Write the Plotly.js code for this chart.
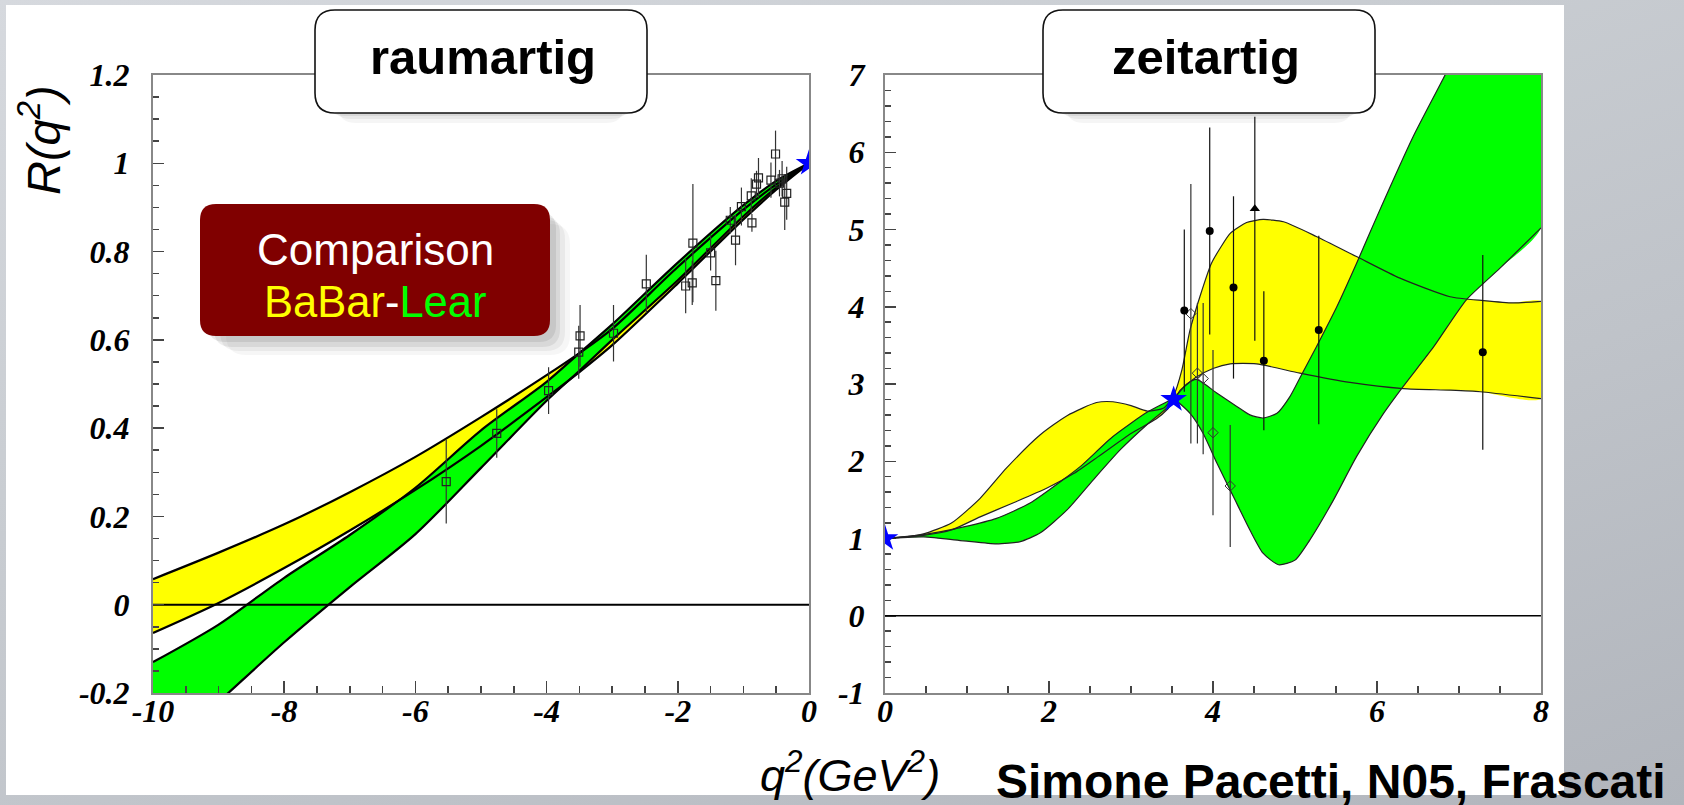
<!DOCTYPE html>
<html>
<head>
<meta charset="utf-8">
<script src="https://cdn.plot.ly/plotly-3.0.1.min.js"></script>
<style>
  html, body { margin: 0; padding: 0; }
  body { width: 1684px; height: 805px; overflow: hidden;
    background: linear-gradient(160deg, #d6d9de 0%, #c9cdd2 35%, #bfc3c9 65%, #b1b5bc 100%); }
  #chart { width: 1684px; height: 805px; }
</style>
</head>
<body>
<div id="chart"></div>
<script>
// ---------------- DATA ----------------
// Space-like region (left panel), q^2 in GeV^2
const spaceX          = [-10, -9, -8, -7, -6, -5, -4, -3.5, -3, -2, -1, -0.5, 0];
const spaceBabarUpper = [0.058, 0.118, 0.182, 0.255, 0.335, 0.425, 0.52, 0.57, 0.625, 0.765, 0.895, 0.952, 1.0];
const spaceBabarLower = [-0.064, 0.004, 0.083, 0.168, 0.26, 0.36, 0.47, 0.527, 0.588, 0.728, 0.873, 0.94, 1.0];
const spaceLearUpper  = [-0.13, -0.045, 0.061, 0.158, 0.265, 0.395, 0.505, 0.57, 0.635, 0.775, 0.905, 0.96, 1.0];
const spaceLearLower  = [-0.354, -0.22, -0.085, 0.04, 0.16, 0.31, 0.462, 0.53, 0.6, 0.735, 0.88, 0.945, 1.0];

const spaceDataX   = [-5.53, -4.76, -3.97, -3.51, -3.49, -2.98, -2.48, -1.88, -1.78, -1.77, -1.5, -1.42, -1.2, -1.12, -1.03, -0.88, -0.87, -0.80, -0.77, -0.58, -0.51, -0.45, -0.41, -0.37, -0.34];
const spaceDataY   = [0.279, 0.388, 0.485, 0.572, 0.609, 0.615, 0.727, 0.722, 0.729, 0.819, 0.797, 0.734, 0.871, 0.826, 0.902, 0.926, 0.865, 0.953, 0.967, 0.962, 1.021, 0.955, 0.965, 0.912, 0.932];
const spaceDataErr = [0.095, 0.055, 0.053, 0.06, 0.07, 0.064, 0.066, 0.062, 0.05, 0.134, 0.04, 0.068, 0.03, 0.057, 0.043, 0.04, 0.02, 0.03, 0.045, 0.04, 0.053, 0.03, 0.04, 0.063, 0.06];
const spaceStarX = [0];
const spaceStarY = [1];

// Time-like region (right panel)
const timeBabarUpperX = [0, 0.25, 0.47, 0.81, 1.16, 1.48, 1.89, 2.22, 2.58, 2.78, 3.0, 3.2, 3.4, 3.52, 3.62, 3.72, 3.84, 3.98, 4.1, 4.21, 4.41, 4.61, 4.86, 5.26, 5.75, 6.28, 6.89, 7.3, 7.66, 8.0];
const timeBabarUpperY = [1, 1.02, 1.06, 1.2, 1.52, 1.91, 2.34, 2.59, 2.76, 2.77, 2.72, 2.65, 2.69, 2.85, 3.18, 3.70, 4.13, 4.56, 4.78, 4.95, 5.09, 5.13, 5.10, 4.91, 4.65, 4.37, 4.13, 4.08, 4.05, 4.07];
const timeBabarLowerX = [0, 0.47, 0.81, 1.16, 1.56, 1.97, 2.30, 2.6, 3.0, 3.31, 3.45, 3.52, 3.6, 3.8, 4.0, 4.21, 4.53, 5.06, 5.67, 6.32, 6.89, 7.26, 8.0];
const timeBabarLowerY = [1, 1.04, 1.11, 1.28, 1.46, 1.65, 1.84, 2.06, 2.36, 2.55, 2.68, 2.78, 2.92, 3.09, 3.2, 3.26, 3.26, 3.14, 3.02, 2.94, 2.92, 2.90, 2.81];
const timeLearUpperX  = [0, 0.47, 0.96, 1.36, 1.77, 2.17, 2.38, 2.78, 3.19, 3.44, 3.52, 3.68, 3.80, 4.05, 4.29, 4.45, 4.61, 4.78, 4.94, 5.08, 5.26, 5.51, 5.75, 6.0, 6.44, 6.83, 7.2, 8.0];
const timeLearUpperY  = [1, 1.05, 1.15, 1.26, 1.46, 1.76, 1.93, 2.32, 2.63, 2.77, 2.81, 3.0, 3.06, 2.88, 2.71, 2.60, 2.56, 2.62, 2.84, 3.12, 3.48, 4.0, 4.56, 5.17, 6.2, 7.0, 7.8, 9.5];
const timeLearLowerX  = [0, 0.47, 0.96, 1.36, 1.65, 1.89, 2.22, 2.54, 2.87, 3.19, 3.48, 3.52, 3.72, 3.88, 4.05, 4.25, 4.45, 4.61, 4.80, 5.0, 5.18, 5.47, 5.75, 6.08, 6.32, 6.69, 7.09, 7.5, 8.0];
const timeLearLowerY  = [1, 1.02, 0.97, 0.93, 0.96, 1.07, 1.37, 1.76, 2.15, 2.47, 2.73, 2.8, 2.62, 2.36, 1.97, 1.54, 1.11, 0.81, 0.66, 0.72, 0.98, 1.50, 2.06, 2.62, 2.97, 3.48, 4.09, 4.5, 5.02];

const timeDotsX   = [3.65, 3.96, 4.25, 4.62, 5.29, 7.29];
const timeDotsY   = [3.95, 4.98, 4.25, 3.30, 3.70, 3.41];
const timeDotsErr = [1.05, 1.34, 1.18, 0.90, 1.22, 1.26];
const timeTriX = [4.51];
const timeTriY = [5.27];
const timeTriErrUp = [1.19];
const timeTriErrDown = [1.71];
const timeDiamX   = [3.73, 3.81, 3.88, 4.00, 4.21];
const timeDiamY   = [3.91, 3.14, 3.07, 2.37, 1.68];
const timeDiamErr = [1.68, 0.91, 0.98, 1.07, 0.79];
const timeStarX = [0, 3.52];
const timeStarY = [1, 2.8];

// Axes / ticks
const leftXRange = [-10, 0];
const leftYRange = [-0.2, 1.2];
const rightXRange = [0, 8];
const rightYRange = [-1, 7];
const leftXTicks = [-10, -8, -6, -4, -2, 0];
const leftXTickText = ['-10', '-8', '-6', '-4', '-2', '0'];
const leftYTicks = [-0.2, 0, 0.2, 0.4, 0.6, 0.8, 1, 1.2];
const leftYTickText = ['-0.2', '0', '0.2', '0.4', '0.6', '0.8', '1', '1.2'];
const rightXTicks = [0, 2, 4, 6, 8];
const rightXTickText = ['0', '2', '4', '6', '8'];
const rightYTicks = [-1, 0, 1, 2, 3, 4, 5, 6, 7];
const rightYTickText = ['-1', '0', '1', '2', '3', '4', '5', '6', '7'];

// ---------------- HELPERS ----------------
const W = 1684, H = 805;
const PX = x => x / W;
const PY = y => 1 - y / H;

function band(xu, yu, xl, yl) {
  return { x: xu.concat(xl.slice().reverse()), y: yu.concat(yl.slice().reverse()) };
}
function roundRect(x0, y0, x1, y1, r) {
  const X = PX, Y = PY;
  return `M ${X(x0 + r)},${Y(y0)} L ${X(x1 - r)},${Y(y0)} Q ${X(x1)},${Y(y0)} ${X(x1)},${Y(y0 + r)} ` +
         `L ${X(x1)},${Y(y1 - r)} Q ${X(x1)},${Y(y1)} ${X(x1 - r)},${Y(y1)} ` +
         `L ${X(x0 + r)},${Y(y1)} Q ${X(x0)},${Y(y1)} ${X(x0)},${Y(y1 - r)} ` +
         `L ${X(x0)},${Y(y0 + r)} Q ${X(x0)},${Y(y0)} ${X(x0 + r)},${Y(y0)} Z`;
}

const YELLOW = '#ffff00', GREEN = '#00ff00';
const traces = [];

// ---- left panel ----
const sb = band(spaceX, spaceBabarUpper, spaceX, spaceBabarLower);
const sl = band(spaceX, spaceLearUpper, spaceX, spaceLearLower);
traces.push({ x: sb.x, y: sb.y, xaxis: 'x', yaxis: 'y', type: 'scatter', mode: 'lines', fill: 'toself',
  fillcolor: YELLOW, line: { width: 0, shape: 'spline', smoothing: 0.8 }, hoverinfo: 'skip' });
traces.push({ x: sl.x, y: sl.y, xaxis: 'x', yaxis: 'y', type: 'scatter', mode: 'lines', fill: 'toself',
  fillcolor: GREEN, line: { width: 0, shape: 'spline', smoothing: 0.8 }, hoverinfo: 'skip' });
traces.push({ x: leftXRange, y: [0, 0], xaxis: 'x', yaxis: 'y', mode: 'lines', line: { color: '#000', width: 2 } });
[spaceBabarUpper, spaceBabarLower, spaceLearUpper, spaceLearLower].forEach(arr => {
  traces.push({ x: spaceX, y: arr, xaxis: 'x', yaxis: 'y', mode: 'lines',
    line: { color: '#000', width: 2.2, shape: 'spline', smoothing: 0.8 } });
});
traces.push({ x: spaceDataX, y: spaceDataY, xaxis: 'x', yaxis: 'y', mode: 'markers',
  marker: { symbol: 'square-open', size: 8, color: '#222', line: { width: 1.2 } },
  error_y: { type: 'data', array: spaceDataErr, color: '#333', thickness: 1.2, width: 0 } });
traces.push({ x: spaceStarX, y: spaceStarY, xaxis: 'x', yaxis: 'y', mode: 'markers',
  marker: { symbol: 'star', size: 20, color: '#0000ff', line: { width: 0 } } });

// ---- right panel ----
const tb = band(timeBabarUpperX, timeBabarUpperY, timeBabarLowerX, timeBabarLowerY);
const tl = band(timeLearUpperX, timeLearUpperY, timeLearLowerX, timeLearLowerY);
traces.push({ x: tb.x, y: tb.y, xaxis: 'x2', yaxis: 'y2', mode: 'lines', fill: 'toself',
  fillcolor: YELLOW, line: { width: 0, shape: 'spline', smoothing: 0.6 }, hoverinfo: 'skip' });
traces.push({ x: tl.x, y: tl.y, xaxis: 'x2', yaxis: 'y2', mode: 'lines', fill: 'toself',
  fillcolor: GREEN, line: { width: 0, shape: 'spline', smoothing: 0.6 }, hoverinfo: 'skip' });
traces.push({ x: rightXRange, y: [0, 0], xaxis: 'x2', yaxis: 'y2', mode: 'lines', line: { color: '#000', width: 1.6 } });
[[timeBabarUpperX, timeBabarUpperY], [timeBabarLowerX, timeBabarLowerY],
 [timeLearUpperX, timeLearUpperY], [timeLearLowerX, timeLearLowerY]].forEach(([xx, yy]) => {
  traces.push({ x: xx, y: yy, xaxis: 'x2', yaxis: 'y2', mode: 'lines',
    line: { color: '#222', width: 1.2, shape: 'spline', smoothing: 0.6 } });
});
traces.push({ x: timeDiamX, y: timeDiamY, xaxis: 'x2', yaxis: 'y2', mode: 'markers',
  marker: { symbol: 'diamond-open', size: 8, color: '#333', line: { width: 1 } },
  error_y: { type: 'data', array: timeDiamErr, color: '#333', thickness: 1.2, width: 0 } });
traces.push({ x: timeDotsX, y: timeDotsY, xaxis: 'x2', yaxis: 'y2', mode: 'markers',
  marker: { symbol: 'circle', size: 8, color: '#000' },
  error_y: { type: 'data', array: timeDotsErr, color: '#111', thickness: 1.2, width: 0 } });
traces.push({ x: timeTriX, y: timeTriY, xaxis: 'x2', yaxis: 'y2', mode: 'markers',
  marker: { symbol: 'triangle-up', size: 9, color: '#000' },
  error_y: { type: 'data', symmetric: false, array: timeTriErrUp, arrayminus: timeTriErrDown, color: '#111', thickness: 1.2, width: 0 } });
traces.push({ x: timeStarX, y: timeStarY, xaxis: 'x2', yaxis: 'y2', mode: 'markers',
  marker: { symbol: 'star', size: 20, color: '#0000ff', line: { width: 0 } } });

// ---------------- LAYOUT ----------------
const tickFont = { family: 'Liberation Serif', size: 32, color: '#000', weight: 'bold', style: 'italic' };
function xAxis(domain, range, vals, text, anchor, layer) {
  return { domain, range, anchor, tickmode: 'array', tickvals: vals, ticktext: text,
    ticks: 'inside', ticklen: 12, tickwidth: 1.5, tickcolor: '#444',
    minor: { tickmode: 'linear', dtick: 0.5, tick0: range[0], ticks: 'inside', ticklen: 7, tickwidth: 1.5, tickcolor: '#444' },
    showline: true, mirror: true, linecolor: '#888', linewidth: 2, showgrid: false, zeroline: false,
    tickfont: tickFont, ticklabelstandoff: -11, fixedrange: true, layer };
}
function yAxis(domain, range, vals, text, anchor, minorDtick, standoff, layer) {
  return { domain, range, anchor, tickmode: 'array', tickvals: vals, ticktext: text,
    ticks: 'inside', ticklen: 11, tickwidth: 1.5, tickcolor: '#444',
    minor: { tickmode: 'linear', dtick: minorDtick, tick0: range[0], ticks: 'inside', ticklen: 6, tickwidth: 1.5, tickcolor: '#444' },
    showline: true, mirror: true, linecolor: '#888', linewidth: 2, showgrid: false, zeroline: false,
    tickfont: tickFont, ticklabelstandoff: standoff, fixedrange: true, layer };
}

const shadow = (x0, y0, x1, y1, r, a) => ({ type: 'path', xref: 'paper', yref: 'paper', layer: 'above',
  path: roundRect(x0, y0, x1, y1, r), fillcolor: `rgba(0,0,0,${a})`, line: { width: 0 } });

const shapes = [
  // white slide area
  { type: 'rect', xref: 'paper', yref: 'paper', layer: 'below', x0: PX(6), x1: PX(1564), y0: PY(795), y1: PY(5),
    fillcolor: '#ffffff', line: { width: 0 } },
  // title box shadows
  shadow(338, 22, 624, 123, 18, 0.04), shadow(333, 19, 629, 119, 18, 0.05), shadow(327, 16, 635, 116, 18, 0.07),
  shadow(1066, 22, 1352, 123, 18, 0.04), shadow(1061, 19, 1357, 119, 18, 0.05), shadow(1055, 16, 1363, 116, 18, 0.07),
  // title boxes
  { type: 'path', xref: 'paper', yref: 'paper', layer: 'above', path: roundRect(315, 10, 647, 113, 20),
    fillcolor: '#ffffff', line: { color: '#111', width: 1.6 } },
  { type: 'path', xref: 'paper', yref: 'paper', layer: 'above', path: roundRect(1043, 10, 1375, 113, 20),
    fillcolor: '#ffffff', line: { color: '#111', width: 1.6 } },
  // comparison box shadow + box
  shadow(226, 224, 570, 355, 20, 0.035), shadow(220, 220, 565, 351, 19, 0.05), shadow(214, 216, 560, 347, 18, 0.07),
  shadow(208, 212, 556, 342, 17, 0.08),
  { type: 'path', xref: 'paper', yref: 'paper', layer: 'above', path: roundRect(200, 204, 550, 336, 16),
    fillcolor: '#800000', line: { width: 0 } }
];

const annFont = (size, color, weight, style) => ({ family: 'Liberation Sans, Arial, sans-serif', size, color, weight, style });
const annotations = [
  { xref: 'paper', yref: 'paper', x: PX(483), y: PY(57), xanchor: 'center', yanchor: 'middle', showarrow: false,
    text: 'raumartig', font: annFont(49, '#000', 'bold', 'normal') },
  { xref: 'paper', yref: 'paper', x: PX(1206), y: PY(57), xanchor: 'center', yanchor: 'middle', showarrow: false,
    text: 'zeitartig', font: annFont(49, '#000', 'bold', 'normal') },
  { xref: 'paper', yref: 'paper', x: PX(375), y: PY(250), xanchor: 'center', yanchor: 'middle', showarrow: false,
    text: 'Comparison', font: annFont(44, '#ffffff', 'normal', 'normal') },
  { xref: 'paper', yref: 'paper', x: PX(375), y: PY(302), xanchor: 'center', yanchor: 'middle', showarrow: false,
    text: '<span style="color:#ffff00">BaBar</span><span style="color:#ffffff">-</span><span style="color:#00ff00">Lear</span>',
    font: annFont(43.5, '#ffffff', 'normal', 'normal') },
  { xref: 'paper', yref: 'paper', x: PX(40), y: PY(140), xanchor: 'center', yanchor: 'middle', showarrow: false,
    textangle: -90, text: 'R(q<sup>2</sup>)', font: annFont(47, '#000', 'normal', 'italic') },
  { xref: 'paper', yref: 'paper', x: PX(850), y: PY(772), xanchor: 'center', yanchor: 'middle', showarrow: false,
    text: 'q<sup>2</sup>(GeV<sup>2</sup>)', font: annFont(45, '#000', 'normal', 'italic') },
  { xref: 'paper', yref: 'paper', x: PX(1331), y: PY(781), xanchor: 'center', yanchor: 'middle', showarrow: false,
    text: 'Simone Pacetti, N05, Frascati', font: annFont(48, '#000', 'bold', 'normal') }
];

const layout = {
  width: W, height: H, margin: { l: 0, r: 0, t: 0, b: 0 },
  paper_bgcolor: 'rgba(0,0,0,0)', plot_bgcolor: 'rgba(0,0,0,0)',
  showlegend: false, hovermode: false,
  xaxis: xAxis([PX(153), PX(809)], leftXRange, leftXTicks, leftXTickText, 'y', 'above traces'),
  yaxis: yAxis([PY(693), PY(75)], leftYRange, leftYTicks, leftYTickText, 'x', 0.05, 15, 'above traces'),
  xaxis2: xAxis([PX(885), PX(1541)], rightXRange, rightXTicks, rightXTickText, 'y2', 'below traces'),
  yaxis2: yAxis([PY(693), PY(75)], rightYRange, rightYTicks, rightYTickText, 'x2', 0.2, 12, 'below traces'),
  shapes, annotations
};

Plotly.newPlot('chart', traces, layout, { staticPlot: true, displayModeBar: false });
</script>
</body>
</html>
